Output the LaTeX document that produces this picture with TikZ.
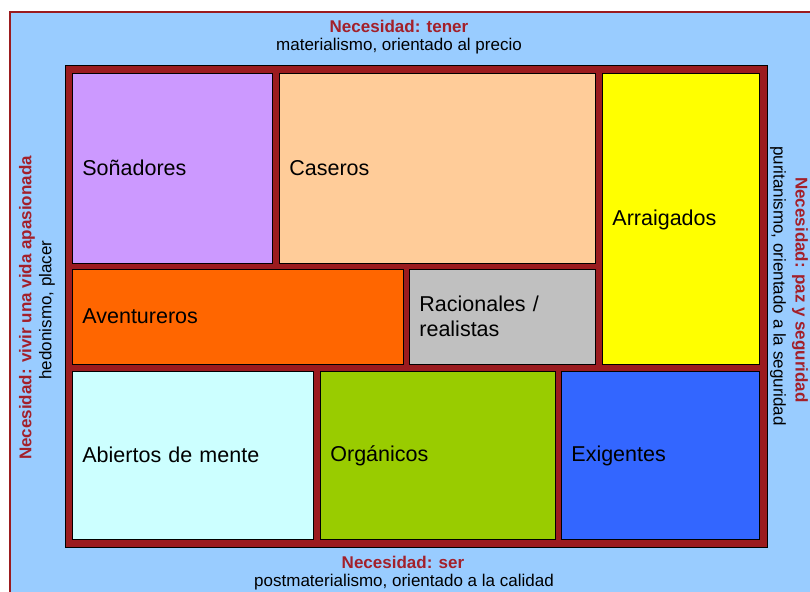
\documentclass[tikz,border=0pt]{standalone}
\usepackage{fontspec}
\setmainfont{Liberation Sans}
\definecolor{fondo}{HTML}{99CCFF}
\definecolor{granate}{HTML}{9B1B1F}
\definecolor{titulo}{HTML}{A3202A}
\definecolor{lila}{HTML}{CC99FF}
\definecolor{salmon}{HTML}{FFCC99}
\definecolor{amarillo}{HTML}{FFFF00}
\definecolor{naranja}{HTML}{FF6600}
\definecolor{gris}{HTML}{C0C0C0}
\definecolor{celeste}{HTML}{CCFFFF}
\definecolor{oliva}{HTML}{99CC00}
\definecolor{azul}{HTML}{3366FF}
\newcommand\puntal{\rule[-3pt]{0pt}{20pt}}
\begin{document}
\begin{tikzpicture}[x=1pt,y=-1pt,
  celda/.style={draw=black,line width=0.8pt,anchor=north west,align=left,
    inner xsep=10pt,inner ysep=0pt,font=\fontsize{21.5}{25}\selectfont,
    execute at begin node=\puntal,execute at end node=\puntal},
  necesidad/.style={text=titulo,font=\fontsize{17}{20}\selectfont\bfseries},
  orientado/.style={font=\fontsize{17}{20}\selectfont}]
  \useasboundingbox (0,0) rectangle (810,591);
  \clip (0,0) rectangle (810,591);
  \draw[fill=fondo,draw=granate,line width=1.2pt] (10,12) rectangle (840,620);
  \node[necesidad] (tener) at (399,26) {Necesidad: tener};
  \node[orientado] (precio) at (399,46) {materialismo, orientado al precio};
  \node[necesidad] (ser) at (403,562) {Necesidad: ser};
  \node[orientado] (calidad) at (404,582) {postmaterialismo, orientado a la calidad};
  \node[necesidad,rotate=90] (vivir) at (27,308) {Necesidad: vivir una vida apasionada};
  \node[orientado,rotate=90] (placer) at (47,310) {hedonismo, placer};
  \node[necesidad,rotate=-90] (paz) at (800,290) {Necesidad: paz y seguridad};
  \node[orientado,rotate=-90] (seguridad) at (778,286) {puritanismo, orientado a la seguridad};
  \draw[fill=granate,draw=black,line width=1pt] (65,66) rectangle (767,547);
  \node[celda,fill=lila,text width=180pt,minimum height=190pt] (sonadores) at (72,73) {Soñadores};
  \node[celda,fill=salmon,text width=296pt,minimum height=190pt] (caseros) at (279,73) {Caseros};
  \node[celda,fill=amarillo,text width=137pt,minimum height=291pt] (arraigados) at (602,73) {Arraigados};
  \node[celda,fill=naranja,text width=311pt,minimum height=95pt] (aventureros) at (72,269) {Aventureros};
  \node[celda,fill=gris,text width=166pt,minimum height=95pt] (racionales) at (409,269) {Racionales /\\realistas};
  \node[celda,fill=celeste,text width=221pt,minimum height=168pt] (abiertos) at (72,371) {Abiertos de mente};
  \node[celda,fill=oliva,text width=215pt,minimum height=168pt] (organicos) at (320,371) {Orgánicos};
  \node[celda,fill=azul,text width=178pt,minimum height=168pt] (exigentes) at (561,371) {Exigentes};
\end{tikzpicture}
\end{document}
